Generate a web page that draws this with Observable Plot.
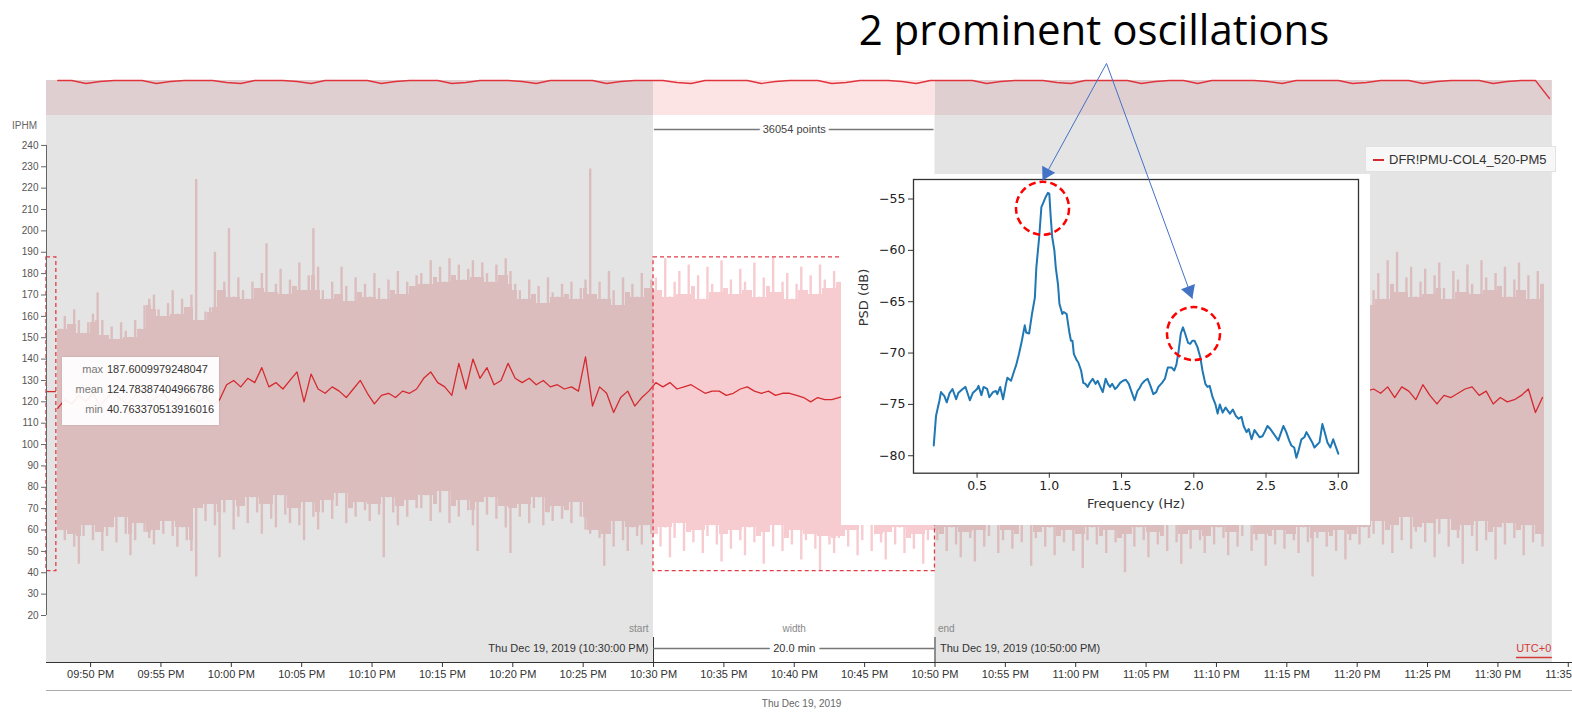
<!DOCTYPE html>
<html><head><meta charset="utf-8">
<script src="https://cdn.jsdelivr.net/npm/d3@7"></script>
<script src="https://cdn.jsdelivr.net/npm/@observablehq/plot@0.6"></script>
<style>
html,body{margin:0;padding:0;background:#fff;}
#root{position:relative;width:1572px;height:712px;overflow:hidden;font-family:"Liberation Sans",Arial,sans-serif;}
#root > *{position:absolute;}
#stats{left:62px;top:357px;width:157px;height:68px;background:rgba(255,255,255,0.93);box-shadow:0 0 2px rgba(0,0,0,0.12);font-size:11px;}
#stats div{position:absolute;left:0;width:157px;height:14px;line-height:14px;}
#stats .k{position:absolute;right:116px;color:#777;}
#stats .v{position:absolute;left:45px;color:#333;}
#legend{left:1365px;top:146px;width:191px;height:26px;background:#f7f7f7;border:1px solid #e2e2e2;box-sizing:border-box;font-size:13px;color:#333;}
#legend .sw{position:absolute;left:7px;top:12px;width:11px;height:2px;background:#d42a2f;}
#legend .tx{position:absolute;left:23px;top:5px;line-height:15px;white-space:nowrap;}
#insetbg{left:841px;top:174px;width:529px;height:351px;background:#fff;}
#title{left:794px;top:8px;width:600px;text-align:center;font-family:"Open Sans",sans-serif;font-size:42px;line-height:42px;color:#000;white-space:nowrap;}
</style></head><body><div id="root"></div>
<script>
// ---------- DATA ----------
// main series: 20-second bins from 21:47:40 UTC (max and min of the window)
const hiVals = [
154,160,156,163,158,152,157,161,171,158,151,155,149,157,153,150,158,154,165,168,
170,163,160,166,172,161,168,164,170,224,
158,162,164,190,172,176,201,169,178,172,168,176,173,180,194,171,175,182,170,177,
174,185,172,179,201,183,
172,168,176,170,183,174,167,178,171,175,169,180,173,168,177,172,181,170,176,174,179,
180,175,186,178,183,176,187,179,184,177,182,186,178,185,180,176,184,179,187,181,175,
172,168,177,170,174,166,178,171,169,175,170,176,168,173,177,229,
170,176,168,181,172,165,178,171,175,169,180,173,177,
178,172,187,169,176,181,170,184,174,179,168,183,175,171,186,173,177,170,182,176,
172,185,169,178,174,187.6,171,176,180,168,175,183,172,179,170,184,177,173,181,176,
176,181,172,185,170,178,174,183,169,177,180,173,186,171,175,182,168,179,174,177,
172,165,178,160,175,168,181,163,170,176,162,179,167,173,158,177,164,171,180,166,
174,161,176,169,182,163,172,167,178,160,171,177,164,180,168,173,159,175,166,179,
163,172,178,161,174,169,181,165,176,170,158,173,167,179,164,176,170,162,177,168,
175,160,171,178,166,173,181,163,169,176,164,179,170,167,174,161,177,172,165,180,
168,175,162,178,171,166,180,173,163,177,170,176,165,
172,180,168,186,175,190,171,178,183,169,176,182,170,179,185,173,168,181,177,171,
184,175,170,186,178,172,180,174,183,169,177,185,172,179,168,181,175];
const loVals = [
60,55,58,52,44,57,62,55,59,50,57,61,54,66,58,48,55,63,59,56,
53,60,58,64,57,52,61,55,50,38,
70,64,72,62,47,68,74,60,66,71,63,75,68,58,72,65,61,76,67,63,70,62,55,73,66,60,
68,74,65,71,77,63,70,66,73,69,64,72,67,47,75,68,62,71,66,74,70,
70,76,64,72,68,78,63,71,66,74,69,62,50,73,67,75,65,71,61,49,70,
66,72,63,70,75,62,68,64,71,65,69,63,73,66,60,58,
60,56,43,58,52,64,55,50,61,57,53,62,58,
58,52,61,47,56,63,50,59,54,60,49,57,62,53,45,58,51,60,55,48,
61,54,57,44,59,52,62,50,56,53,60,46,55,58,51,40.8,57,53,49,56,
57,52,60,48,55,62,50,58,54,46,59,53,61,49,56,51,58,44,55,60,
55,58,50,61,53,47,59,56,45,60,52,57,63,49,55,60,51,58,54,62,
43,56,59,52,61,48,57,54,60,50,58,42,55,61,53,57,49,60,54,56,
40,58,52,61,55,47,59,53,57,50,62,54,44,58,51,60,55,49,57,53,
61,56,48,59,52,57,63,50,55,58,43,57,53,60,51,58,55,49,61,54,
38,56,59,52,57,50,60,46,55,58,53,61,56,
58,64,53,60,49,62,55,66,51,59,61,54,63,47,58,65,52,60,56,44,
62,57,50,64,55,59,46,61,53,63,56,60,48,62,54,58,52];
// mean line: 30-second steps from 21:47:40 UTC
const meanVals = [
117,121,119,123,120,124,118,122,125,121,119,123,126,120,122,124,119,121,125,122,120,123,118,
121,128,130,127,131,129,136,127,129,126,130,134,120,133,126,124,127,125,122,126,
130,124,119,123,124,122,125,124,126,131,134,129,127,123,138,126,140,131,136,128,
130,138,131,129,131,128,130,127,128,126,127,125,141,118,127,124,115,122,125,118,
122,125,129,
127,129,126,127,128,126,124,125,125,123,124,126,127,125,124,125,123,124,124,123,122,120,122,121,121,122,
123,125,124,126,122,125,127,124,123,126,125,122,124,127,125,123,126,124,125,122,
124,126,123,125,127,124,122,125,126,123,125,124,127,123,125,126,124,122,125,124,
126,123,125,127,124,125,123,126,124,122,125,127,124,123,126,125,124,122,126,125,
123,124,127,125,124,126,123,125,124,126,125,123,126,124,125,
126,124,127,122,127,125,121,128,123,119,123,122,124,126,127,123,125,119,122,120,
121,123,126,115,122];
// overview strip: dip of the summary line per minute from 21:47:40 UTC
const ovDip = [
0,0,3,1,0,0,0,3,1,0, 0,0,2,3,0,0,0,1,3,0, 0,0,0,3,1,0,0,0,3,2, 0,0,0,1,3,0,0,0,0,3,
1,0,0,0,2,3,0,0,0,0, 3,1,0,0,0,3,2,0,0,0, 1,3,0,0,0,0,3,1,0,0, 0,2,3,0,0,0,0,3,1,0,
0,3,0,0,0,0,1,3,0,0, 0,0,3,2,0,0,0,3,1,0, 0,0,3,1,0,0,18];
const stats = {max: 187.6009979248047, mean: 124.78387404966786, min: 40.763370513916016};
const seriesName = "DFR!PMU-COL4_520-PM5";
const pointCount = "36054 points";
const yTicks = [20,30,40,50,60,70,80,90,100,110,120,130,140,150,160,170,180,190,200,210,220,230,240];
const xTickTimes = ["21:50","21:55","22:00","22:05","22:10","22:15","22:20","22:25","22:30","22:35","22:40","22:45","22:50","22:55","23:00","23:05","23:10","23:15","23:20","23:25","23:30","23:35"];
const xTickLabels = ["09:50 PM","09:55 PM","10:00 PM","10:05 PM","10:10 PM","10:15 PM","10:20 PM","10:25 PM","10:30 PM","10:35 PM","10:40 PM","10:45 PM","10:50 PM","10:55 PM","11:00 PM","11:05 PM","11:10 PM","11:15 PM","11:20 PM","11:25 PM","11:30 PM","11:35 PM"];
// inset PSD
const psdFreq = [0.2,0.216,0.24,0.25,0.274,0.29,0.31,0.33,0.355,0.37,0.40,0.42,0.45,0.47,0.50,0.51,0.53,0.545,0.57,0.585,
0.61,0.63,0.64,0.66,0.68,0.70,0.71,0.735,0.76,0.77,0.79,0.81,0.83,0.84,0.86,0.88,0.90,0.91,0.93,0.945,
0.96,0.975,0.99,1.0,1.01,1.02,1.035,1.045,1.06,1.07,1.09,1.10,1.12,1.14,1.15,1.16,1.17,1.19,1.20,1.22,
1.235,1.25,1.265,1.28,1.30,1.32,1.335,1.35,1.37,1.39,1.405,1.42,1.435,1.455,1.47,1.49,1.51,1.53,1.55,1.57,
1.59,1.61,1.625,1.64,1.66,1.68,1.70,1.72,1.74,1.755,1.78,1.80,1.82,1.845,1.865,1.88,1.895,1.91,1.925,1.94,
1.96,1.975,1.99,2.005,2.025,2.045,2.06,2.08,2.095,2.11,2.13,2.15,2.165,2.18,2.20,2.22,2.235,2.25,2.27,2.29,
2.31,2.33,2.345,2.365,2.38,2.40,2.42,2.44,2.455,2.475,2.49,2.51,2.53,2.545,2.565,2.585,2.60,2.62,2.64,2.66,
2.675,2.695,2.71,2.725,2.745,2.765,2.78,2.80,2.82,2.835,2.855,2.87,2.89,2.91,2.925,2.945,2.965,2.98,3.0];
const psdDb = [-79.0,-76.1,-74.6,-73.8,-74.2,-74.8,-73.9,-73.5,-74.5,-73.9,-73.5,-73.3,-74.6,-73.9,-73.5,-73.2,-74.1,-73.3,-73.5,-74.3,
-73.8,-73.7,-74.0,-73.3,-74.5,-73.0,-72.4,-72.7,-71.6,-71.2,-70.1,-68.8,-67.3,-68.0,-68.1,-66.2,-64.6,-61.7,-58.7,-55.8,
-55.3,-54.8,-54.4,-54.5,-56.8,-58.7,-60.0,-61.7,-63.3,-65.2,-66.2,-66.0,-66.2,-68.1,-68.8,-68.8,-70.1,-70.7,-70.9,-71.7,
-72.9,-73.0,-73.3,-72.9,-72.5,-73.0,-72.7,-73.2,-73.8,-72.5,-73.0,-73.3,-73.0,-73.5,-73.3,-72.9,-72.7,-72.6,-73.0,-73.8,
-74.6,-73.7,-73.4,-73.0,-72.7,-72.5,-73.2,-74.0,-73.8,-73.3,-72.9,-72.5,-71.4,-71.4,-71.7,-71.1,-69.8,-68.1,-67.5,-68.1,
-69.0,-69.1,-68.8,-68.8,-69.4,-70.4,-71.7,-73.0,-73.3,-73.2,-74.3,-75.0,-75.9,-75.0,-75.8,-75.3,-75.6,-75.9,-75.5,-76.1,
-76.4,-76.2,-77.1,-77.7,-77.4,-78.4,-77.5,-77.9,-78.2,-78.1,-77.7,-77.1,-77.4,-77.7,-78.1,-78.5,-77.9,-77.1,-77.7,-78.5,
-79.0,-79.2,-80.2,-79.5,-78.4,-78.2,-77.7,-78.2,-78.7,-79.2,-78.9,-78.7,-76.9,-77.9,-78.7,-79.2,-78.4,-79.0,-79.8];
const psdXTicks = [0.5,1.0,1.5,2.0,2.5,3.0];
const psdYTicks = [-80,-75,-70,-65,-60,-55];
const peakFreq = [0.953, 1.998];
const peakDb = [-55.9, -68.1];
const arrowFrom = {f: 1.396, db: -41.8};
const arrowTipFreq = [0.953, 1.99];
const arrowTipDb = [-53.2, -64.7];
const titleText = "2 prominent oscillations";

// ---------- BUILD ----------
const T = s => new Date("2019-12-19T" + (s.length === 5 ? s + ":00" : s) + "Z");
const xDomain = [T("21:46:52"), T("23:35:18")];
const selStart = T("22:30:00"), selEnd = T("22:50:00"), selMid = T("22:40:00");
const grayEnd = T("23:33:52");
const bracketEnd = T("21:47:34");
const t0 = +T("21:47:40");
const n = hiVals.length;
// each bin: full extent (hi/lo) plus the solid body shared with its neighbours
const bins = hiVals.map((hi, i) => {
  const nb = [i - 1, i, i + 1].filter(j => j >= 0 && j < n);
  return {a: new Date(t0 + i * 20000), b: new Date(t0 + (i + 1) * 20000), m: new Date(t0 + i * 20000 + 10000),
    hi, lo: loVals[i],
    coreHi: Math.min(...nb.map(j => hiVals[j])), coreLo: Math.max(...nb.map(j => loVals[j]))};
});
const inSel = d => d.a >= selStart && d.b <= selEnd;
const meanPts = meanVals.map((v, i) => ({t: new Date(t0 + i * 30000), v}));
const ovPts = ovDip.map((d, i) => ({t: new Date(t0 + i * 60000), d}));
const tickDates = xTickTimes.map(T);
const tickLabelMap = new Map(tickDates.map((d, i) => [+d, xTickLabels[i]]));
const grayRegions = [{a: xDomain[0], b: selStart}, {a: selEnd, b: grayEnd}];

const root = document.getElementById("root");
const font = `"Liberation Sans", Arial, sans-serif`;
const bandGray = "#dcbdbe", bandSel = "#f7ccd0";
const outB = bins.filter(d => !inSel(d)), inB = bins.filter(inSel);

const main = Plot.plot({
  width: 1572, height: 712,
  marginLeft: 46, marginRight: 0, marginTop: 115, marginBottom: 50,
  x: {type: "utc", domain: xDomain, label: null},
  y: {domain: [-2, 254], label: null},
  style: {fontFamily: font, fontSize: "11px", background: "transparent", color: "#333"},
  marks: [
    Plot.rect(grayRegions, {x1: "a", x2: "b", fill: "#e4e4e4"}),
    Plot.rect(outB, {x1: "a", x2: "b", y1: "coreLo", y2: "coreHi", fill: bandGray, shapeRendering: "crispEdges"}),
    Plot.ruleX(outB, {x: "m", y1: "lo", y2: "hi", stroke: bandGray, strokeWidth: 2.4}),
    Plot.rect(inB, {x1: "a", x2: "b", y1: "coreLo", y2: "coreHi", fill: bandSel, shapeRendering: "crispEdges"}),
    Plot.ruleX(inB, {x: "m", y1: "lo", y2: "hi", stroke: bandSel, strokeWidth: 2.4}),
    Plot.line(meanPts, {x: "t", y: "v", stroke: "#d42a2f", strokeWidth: 1.3}),
    Plot.rect([stats], {x1: () => selStart, x2: () => selEnd, y1: "min", y2: "max", fill: "none", stroke: "#e23b45", strokeWidth: 1.3, strokeDasharray: "4,3"}),
    Plot.rect([stats], {x1: () => xDomain[0], x2: () => bracketEnd, y1: "min", y2: "max", fill: "none", stroke: "#e23b45", strokeWidth: 1.3, strokeDasharray: "4,3"}),
    Plot.ruleY([stats], {y: "mean", x1: () => xDomain[0], x2: () => bracketEnd, stroke: "#d42a2f", strokeWidth: 1.3}),
    // y axis
    Plot.ruleX([xDomain[0]], {y1: 20, y2: 240, stroke: "#666"}),
    Plot.axisY(yTicks, {tickSize: 5, tickPadding: 3, fontSize: 10, stroke: "#666", color: "#555", label: null}),
    Plot.text(["IPHM"], {x: () => xDomain[0], y: () => 249, dx: -22, text: d => d, fontSize: 10, fill: "#666"}),
    // x axis
    Plot.ruleY([-2], {stroke: "#333"}),
    Plot.axisX(tickDates, {tickSize: 5, tickPadding: 3, fontSize: 11, stroke: "#333", tickFormat: d => tickLabelMap.get(+d), label: null}),
    Plot.ruleY([-15.1], {stroke: "#aaa"}),
    Plot.text(["Thu Dec 19, 2019"], {x: () => T("22:40:31"), y: () => -21.2, text: d => d, fontSize: 10, fill: "#666"}),
    // selection annotations
    Plot.ruleY([247.4], {x1: () => selStart, x2: () => selEnd, insetLeft: 1, insetRight: 1, stroke: "#777", strokeWidth: 1.5}),
    Plot.text([pointCount], {x: () => selMid, y: () => 247.4, text: d => d, fontSize: 11, fill: "#444", stroke: "white", strokeWidth: 7, paintOrder: "stroke"}),
    Plot.ruleX([selStart, selEnd], {y1: -2, y2: 9.7, stroke: "#333"}),
    Plot.ruleY([4.55], {x1: () => selStart, x2: () => selEnd, stroke: "#777", strokeWidth: 1.5}),
    Plot.text(["20.0 min"], {x: () => selMid, y: () => 4.55, text: d => d, fontSize: 11, fill: "#333", stroke: "white", strokeWidth: 9, paintOrder: "stroke"}),
    Plot.text(["Thu Dec 19, 2019 (10:30:00 PM)"], {x: () => selStart, y: () => 4.55, dx: -5, textAnchor: "end", text: d => d, fontSize: 11, fill: "#333"}),
    Plot.text(["Thu Dec 19, 2019 (10:50:00 PM)"], {x: () => selEnd, y: () => 4.55, dx: 5, textAnchor: "start", text: d => d, fontSize: 11, fill: "#333"}),
    Plot.text(["start"], {x: () => selStart, y: () => 13.9, dx: -5, textAnchor: "end", text: d => d, fontSize: 10, fill: "#888"}),
    Plot.text(["width"], {x: () => selMid, y: () => 13.9, text: d => d, fontSize: 10, fill: "#888"}),
    Plot.text(["end"], {x: () => selEnd, y: () => 13.9, dx: 3, textAnchor: "start", text: d => d, fontSize: 10, fill: "#888"}),
    Plot.text(["UTC+0"], {x: () => grayEnd, y: () => 4.55, dx: -1, textAnchor: "end", text: d => d, fontSize: 11, fill: "#d43a3a"}),
    Plot.ruleY([0.34], {x1: () => T("23:31:19"), x2: () => grayEnd, stroke: "#d43a3a", strokeWidth: 1.5})
  ]
});
root.appendChild(main);
main.style.left = "0px"; main.style.top = "0px";

const overview = Plot.plot({
  width: 1572, height: 37, marginLeft: 46, marginRight: 0, marginTop: 2, marginBottom: 0,
  x: {type: "utc", domain: xDomain, axis: null},
  y: {domain: [35, 0], axis: null},
  style: {background: "transparent"},
  marks: [
    Plot.rect(grayRegions, {x1: "a", x2: "b", fill: "#e0cfd0"}),
    Plot.rect([{a: selStart, b: selEnd}], {x1: "a", x2: "b", fill: "#fce4e5"}),
    Plot.line(ovPts, {x: "t", y: "d", stroke: "#e0343c", strokeWidth: 1.3})
  ]
});
root.appendChild(overview);
overview.style.left = "0px"; overview.style.top = "78px";

// stats box
const sb = document.createElement("div"); sb.id = "stats";
[["max", stats.max], ["mean", stats.mean], ["min", stats.min]].forEach(([k, v], i) => {
  const row = document.createElement("div");
  row.style.top = (5 + i * 20) + "px";
  row.innerHTML = `<span class="k">${k}</span><span class="v">${v}</span>`;
  sb.appendChild(row);
});
root.appendChild(sb);

// legend
const lg = document.createElement("div"); lg.id = "legend";
lg.innerHTML = `<span class="sw"></span><span class="tx">${seriesName}</span>`;
root.appendChild(lg);

// inset
const bg = document.createElement("div"); bg.id = "insetbg"; root.appendChild(bg);
const psd = psdFreq.map((f, i) => ({f, db: psdDb[i]}));
const circles = peakFreq.map((f, i) => ({f, db: peakDb[i]}));
const iw = 530, ih = 525, iL = 73, iR = 12, iT = 179, iB = 52.3;
const xD = [0.06, 3.14], yD = [-81.7, -53.1];
const kx = (iw - iL - iR) / (xD[1] - xD[0]);
const ky = (ih - iT - iB) / (yD[1] - yD[0]);
const arrows = arrowTipFreq.map((f, i) => {
  const db = arrowTipDb[i];
  const dx = (f - arrowFrom.f) * kx, dy = -(db - arrowFrom.db) * ky;
  const len = Math.hypot(dx, dy), ux = dx / len, uy = dy / len;
  const back = 8.5;
  return {f1: arrowFrom.f, d1: arrowFrom.db, f2: f, d2: db,
    hf: f - ux * back / kx, hd: db + uy * back / ky,
    rot: Math.atan2(dx, -dy) * 180 / Math.PI};
});
const inset = Plot.plot({
  width: iw, height: ih, marginLeft: iL, marginRight: iR, marginTop: iT, marginBottom: iB,
  x: {domain: xD, label: null},
  y: {domain: yD, label: null},
  style: {fontFamily: `"DejaVu Sans", sans-serif`, fontSize: "12px", background: "transparent", overflow: "visible", color: "#222"},
  marks: [
    Plot.frame({stroke: "#333", strokeWidth: 1.3}),
    Plot.axisX(psdXTicks, {tickSize: 5, tickPadding: 3, fontSize: 12.5, stroke: "#333", tickFormat: d => d.toFixed(1), label: null}),
    Plot.axisY(psdYTicks, {tickSize: 5, tickPadding: 3, fontSize: 12.5, stroke: "#333", tickFormat: d => "\u2212" + Math.abs(d), label: null}),
    Plot.text(["PSD (dB)"], {frameAnchor: "left", dx: -50, rotate: -90, text: d => d, fontSize: 13, fill: "#333"}),
    Plot.text(["Frequency (Hz)"], {frameAnchor: "bottom", dy: 35, text: d => d, fontSize: 13, fill: "#333"}),
    Plot.line(psd, {x: "f", y: "db", stroke: "#1f77b4", strokeWidth: 2}),
    Plot.dot(circles, {x: "f", y: "db", r: 26.5, stroke: "#ff0000", strokeWidth: 2.5, strokeDasharray: "7,4", fill: "none"}),
    Plot.link(arrows, {x1: "f1", y1: "d1", x2: "f2", y2: "d2", stroke: "#4472c4", strokeWidth: 1}),
    Plot.dot(arrows, {x: "hf", y: "hd", rotate: "rot", symbol: "triangle", r: 5.5, fill: "#4472c4", stroke: "none"})
  ]
});
root.appendChild(inset);
inset.style.left = "840px"; inset.style.top = "0px";

const tt = document.createElement("div"); tt.id = "title"; tt.textContent = titleText; root.appendChild(tt);
</script></body></html>
